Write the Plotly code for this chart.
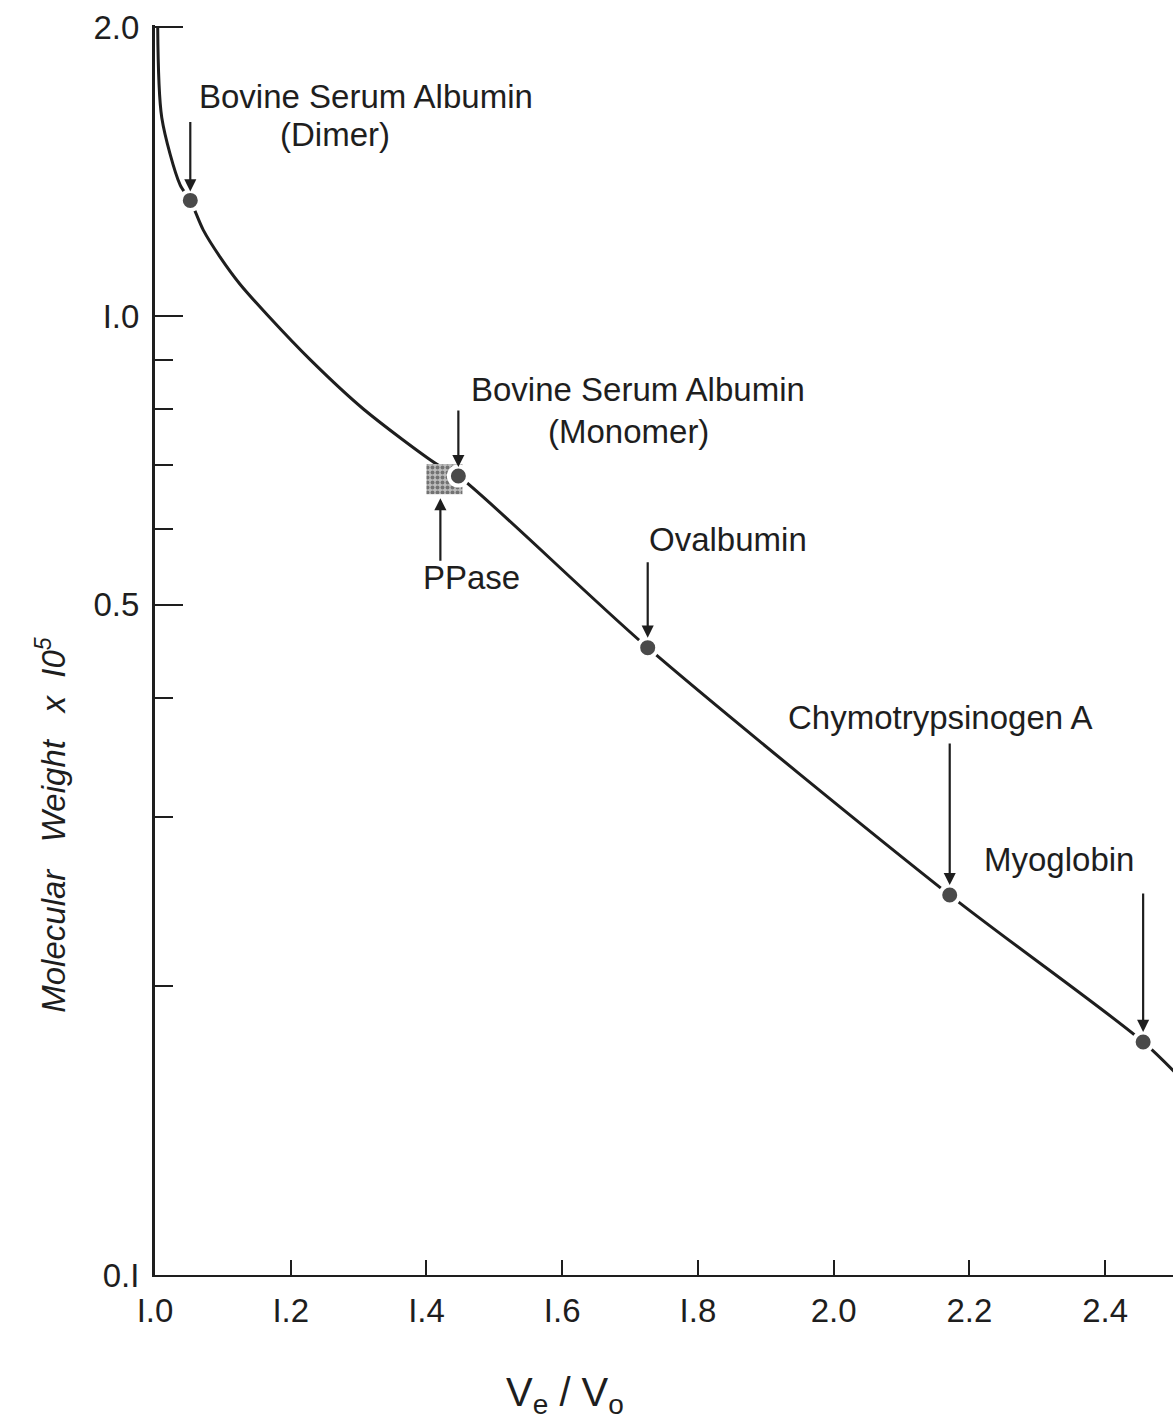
import math
import plotly.graph_objects as go

# ---- data ----
curve_ve_vo = [1.004, 1.010, 1.037, 1.052, 1.071, 1.096, 1.125, 1.167, 1.229, 1.307, 1.416,
               1.447, 1.726, 2.171, 2.456, 2.52]
curve_mw = [2.0, 1.61, 1.37, 1.32, 1.23, 1.152, 1.080, 1.0, 0.9, 0.8, 0.70,
            0.681, 0.451, 0.249, 0.175, 0.158]

std_names = ["BSA dimer", "BSA monomer", "Ovalbumin", "Chymotrypsinogen A", "Myoglobin"]
std_ve_vo = [1.052, 1.447, 1.726, 2.171, 2.456]
std_mw = [1.32, 0.681, 0.451, 0.249, 0.175]

ppase_ve_vo = [1.40, 1.453]
ppase_mw = [0.652, 0.701]

x_ticks = [1.0, 1.2, 1.4, 1.6, 1.8, 2.0, 2.2, 2.4]
x_ticktext = ["I.0", "I.2", "I.4", "I.6", "I.8", "2.0", "2.2", "2.4"]
y_major = [0.1, 0.5, 1.0, 2.0]
y_major_text = ["0.I", "0.5", "I.0", "2.0"]
y_minor = [0.2, 0.3, 0.4, 0.6, 0.7, 0.8, 0.9]

FONT = "Liberation Sans"
INK = "#1e1e1e"
L = math.log10  # annotations on a log axis take log10 positions

fig = go.Figure()

# fitted curve
fig.add_trace(go.Scatter(x=curve_ve_vo, y=curve_mw, mode="lines",
                         line=dict(color=INK, width=3, shape="spline", smoothing=0.8),
                         hoverinfo="skip", showlegend=False))

# PPase shaded box
px0, px1 = ppase_ve_vo
py0, py1 = ppase_mw
fig.add_trace(go.Scatter(x=[px0, px1, px1, px0, px0], y=[py0, py0, py1, py1, py0],
                         mode="lines", fill="toself", line=dict(width=0),
                         fillcolor="rgba(0,0,0,0)",
                         fillpattern=dict(shape=".", fgcolor="#2a2a2a", bgcolor="#bdbdbd",
                                          size=5, solidity=0.5),
                         hoverinfo="skip", showlegend=False))

# standards
fig.add_trace(go.Scatter(x=std_ve_vo, y=std_mw, mode="markers", text=std_names,
                         marker=dict(size=19, color="#4a4a4a",
                                     line=dict(color="white", width=4)),
                         showlegend=False))

# arrows
ppase_arrow_x = (px0 + px1) / 2 - 0.006
arrow_specs = [
    # (x, y, ay, standoff)
    (std_ve_vo[0], std_mw[0], -80, 9),
    (std_ve_vo[1], std_mw[1], -67, 9),
    (std_ve_vo[2], std_mw[2], -87, 10),
    (std_ve_vo[3], std_mw[3], -153, 10),
    (std_ve_vo[4], std_mw[4], -150, 10),
    (ppase_arrow_x, py0, 68, 4),
]
for x, y, ay, so in arrow_specs:
    fig.add_annotation(x=x, y=L(y), xref="x", yref="y", ax=0, ay=ay,
                       axref="pixel", ayref="pixel",
                       text="", showarrow=True, arrowhead=2, arrowsize=1.1, arrowwidth=2.2,
                       arrowcolor=INK, standoff=so)

# labels
labels = [
    (std_ve_vo[0], std_mw[0], "Bovine Serum Albumin", 176, 104),
    (std_ve_vo[0], std_mw[0], "(Dimer)", 145, 66),
    (std_ve_vo[1], std_mw[1], "Bovine Serum Albumin", 180, 87),
    (std_ve_vo[1], std_mw[1], "(Monomer)", 170, 45),
    ((px0 + px1) / 2, py0, "PPase", 27, -83),
    (std_ve_vo[2], std_mw[2], "Ovalbumin", 80, 108),
    (std_ve_vo[3], std_mw[3], "Chymotrypsinogen A", -9, 178),
    (std_ve_vo[4], std_mw[4], "Myoglobin", -84, 182),
]
for x, y, t, xs, ys in labels:
    fig.add_annotation(x=x, y=L(y), xref="x", yref="y", text=t, showarrow=False,
                       xshift=xs, yshift=ys, xanchor="center", yanchor="middle",
                       font=dict(family=FONT, size=33, color=INK))

# axis titles
fig.add_annotation(x=-0.125, y=0.36, xref="paper", yref="paper", showarrow=False,
                   text="<i>Molecular\u00a0\u00a0 Weight\u00a0\u00a0 x\u00a0 I0<sup>5</sup></i>",
                   textangle=-90, font=dict(family=FONT, size=33, color=INK))
fig.add_annotation(x=0.403, y=-0.096, xref="paper", yref="paper", showarrow=False,
                   yanchor="middle",
                   text="V<sub>e</sub> / V<sub>o</sub>",
                   font=dict(family=FONT, size=40, color=INK))

fig.update_layout(
    width=1173, height=1428,
    margin=dict(l=155, r=0, t=25, b=153),
    paper_bgcolor="white", plot_bgcolor="white",
    showlegend=False,
    xaxis=dict(range=[1.0, 2.5], tickmode="array", tickvals=x_ticks, ticktext=x_ticktext,
               ticks="inside", ticklen=15, tickwidth=2, tickcolor=INK,
               showline=True, linecolor=INK, linewidth=2, showgrid=False, zeroline=False,
               ticklabelstandoff=5,
               tickfont=dict(family=FONT, size=33, color=INK)),
    yaxis=dict(type="log", range=[-1, 0.3035], tickmode="array", tickvals=y_major,
               ticktext=y_major_text, ticks="inside", ticklen=28, tickwidth=2, tickcolor=INK,
               showline=True, linecolor=INK, linewidth=3, showgrid=False, zeroline=False,
               ticklabelstandoff=6,
               tickfont=dict(family=FONT, size=33, color=INK),
               minor=dict(tickmode="array", tickvals=y_minor, ticks="inside", ticklen=18,
                          tickwidth=2, tickcolor=INK, showgrid=False)),
)

fig.write_html("out.html")
